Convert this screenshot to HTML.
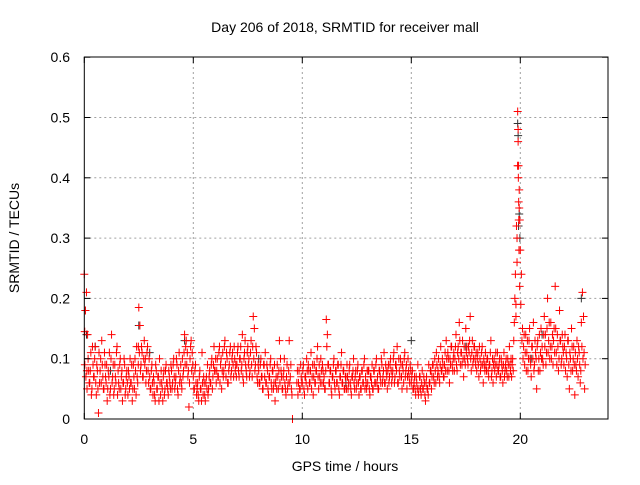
<!DOCTYPE html>
<html><head><meta charset="utf-8"><style>
body{margin:0;background:#fff}
svg text{font-family:"Liberation Sans",sans-serif;font-size:14px;fill:#000}
</style></head><body>
<svg id="chart" width="640" height="480" xmlns="http://www.w3.org/2000/svg">
<text x="345" y="32" text-anchor="middle">Day 206 of 2018, SRMTID for receiver mall</text>
<text transform="translate(19,238) rotate(-90)" text-anchor="middle">SRMTID / TECUs</text>
<text x="345" y="471" text-anchor="middle">GPS time / hours</text>
<g id="grid"></g><g id="black"></g><g id="red"></g><g id="axes"></g>
</svg>
<script>
const xTicks=[0,5,10,15,20];
const yTicks=[0,0.1,0.2,0.3,0.4,0.5,0.6];
const yTickLabels=["0","0.1","0.2","0.3","0.4","0.5","0.6"];
const redStep=0.05;
const redValues=[
0.24,0.18,0.21,0.14,0.08,0.06,0.11,0.05,0.09,0.07,0.12,0.04,0.08,0.01,0.06,0.10,0.13,0.07,0.05,0.09,
0.06,0.03,0.08,0.11,0.05,0.14,0.07,0.04,0.09,0.06,0.12,0.08,0.05,0.10,0.07,0.03,0.06,0.09,0.05,0.08,
0.04,0.07,0.10,0.06,0.03,0.09,0.05,0.08,0.12,0.06,0.185,0.155,0.09,0.11,0.07,0.13,0.10,0.08,0.12,0.06,
0.07,0.05,0.09,0.04,0.06,0.03,0.08,0.05,0.07,0.10,0.04,0.06,0.03,0.08,0.05,0.09,0.06,0.04,0.07,0.05,
0.08,0.06,0.10,0.05,0.07,0.09,0.04,0.11,0.07,0.06,0.10,0.08,0.14,0.12,0.09,0.07,0.02,0.10,0.13,0.11,
0.07,0.05,0.09,0.04,0.06,0.03,0.08,0.05,0.11,0.04,0.06,0.03,0.07,0.09,0.05,0.08,0.06,0.10,0.07,0.12,
0.08,0.06,0.10,0.07,0.12,0.09,0.05,0.11,0.08,0.13,0.07,0.10,0.06,0.09,0.12,0.08,0.11,0.07,0.10,0.09,
0.09,0.12,0.07,0.10,0.08,0.14,0.06,0.11,0.09,0.07,0.12,0.10,0.08,0.13,0.07,0.17,0.15,0.09,0.11,0.06,
0.08,0.06,0.10,0.07,0.05,0.09,0.11,0.06,0.08,0.04,0.07,0.10,0.05,0.08,0.06,0.03,0.07,0.09,0.05,0.13,
0.10,0.07,0.05,0.08,0.06,0.04,0.09,0.06,0.13,0.07,0.05,0.00,null,null,null,0.06,0.04,0.08,0.05,0.07,
0.06,0.09,0.04,0.07,0.10,0.05,0.08,0.06,0.11,0.07,0.04,0.09,0.06,0.08,0.12,0.05,0.07,0.10,0.06,0.08,
0.07,0.05,0.165,0.14,0.09,0.06,0.08,0.04,0.07,0.10,0.05,0.08,0.06,0.09,0.04,0.07,0.11,0.06,0.08,0.05,
0.07,0.09,0.05,0.08,0.06,0.04,0.07,0.10,0.05,0.08,0.06,0.09,0.04,0.07,0.05,0.08,0.06,0.10,0.07,0.05,
0.06,0.08,0.04,0.07,0.09,0.05,0.08,0.06,0.10,0.07,0.05,0.08,0.06,0.09,0.07,0.11,0.06,0.08,0.05,0.09,
0.07,0.10,0.06,0.08,0.11,0.07,0.09,0.12,0.06,0.08,0.10,0.07,0.09,0.06,0.11,0.08,0.05,0.10,0.07,0.09,
0.06,0.08,0.05,0.07,0.04,0.06,0.09,0.05,0.07,0.04,0.08,0.05,0.06,0.03,0.07,0.05,0.09,0.06,0.08,0.07,
0.09,0.06,0.08,0.11,0.07,0.10,0.06,0.12,0.08,0.09,0.07,0.11,0.13,0.08,0.10,0.06,0.09,0.12,0.08,0.11,
0.10,0.14,0.08,0.12,0.16,0.09,0.11,0.13,0.07,0.10,0.15,0.12,0.09,0.11,0.17,0.08,0.13,0.10,0.12,0.09,
0.08,0.11,0.07,0.10,0.09,0.12,0.06,0.09,0.11,0.08,0.10,0.07,0.09,0.13,0.08,0.06,0.10,0.09,0.07,0.11,
0.08,0.10,0.07,0.09,0.06,0.11,0.08,0.10,0.07,0.09,0.12,0.08,0.07,0.10,0.13,0.20,0.17,0.30,0.46,0.38,
0.28,0.24,0.15,0.12,0.09,0.14,0.11,0.08,0.13,0.10,0.07,0.12,0.16,0.09,0.11,0.05,0.13,0.10,0.08,0.15,
0.12,0.09,0.17,0.14,0.11,0.20,0.13,0.10,0.16,0.12,0.09,0.15,0.22,0.11,0.14,0.08,0.18,0.13,0.10,0.12,
0.09,0.14,0.11,0.07,0.13,0.05,0.10,0.15,0.08,0.12,0.04,0.09,0.13,0.07,0.11,0.06,0.16,0.21,0.17,0.05
];
const redValuesB=[
0.09,0.07,0.05,0.10,0.06,0.08,0.04,0.12,0.07,0.10,0.06,0.09,0.05,0.11,0.08,0.06,0.09,0.05,0.11,0.07,
0.09,0.05,0.07,0.04,0.10,0.06,0.09,0.05,0.07,0.11,0.04,0.06,0.09,0.05,0.08,0.06,0.10,0.04,0.07,0.06,
0.08,0.05,0.06,0.09,0.05,0.07,0.10,0.04,0.07,0.09,0.11,0.08,0.12,0.07,0.10,0.09,0.06,0.11,0.08,0.10,
0.05,0.08,0.06,0.07,0.04,0.09,0.05,0.07,0.03,0.06,0.08,0.05,0.07,0.04,0.08,0.06,0.05,0.08,0.06,0.09,
0.05,0.09,0.07,0.06,0.10,0.05,0.08,0.06,0.09,0.05,0.07,0.11,0.09,0.13,0.11,0.08,0.06,0.12,0.08,0.09,
0.05,0.08,0.06,0.05,0.04,0.07,0.05,0.03,0.06,0.07,0.04,0.06,0.05,0.04,0.07,0.06,0.09,0.05,0.09,0.08,
0.10,0.08,0.07,0.11,0.06,0.10,0.08,0.07,0.12,0.09,0.11,0.06,0.08,0.11,0.07,0.10,0.09,0.12,0.08,0.07,
0.11,0.08,0.10,0.12,0.09,0.07,0.10,0.13,0.08,0.11,0.09,0.07,0.11,0.09,0.12,0.10,0.08,0.12,0.07,0.09,
0.06,0.09,0.07,0.05,0.09,0.07,0.06,0.09,0.05,0.07,0.09,0.06,0.08,0.05,0.09,0.06,0.05,0.07,0.08,0.06,
0.08,0.05,0.07,0.10,0.05,0.07,0.05,0.08,0.06,0.09,0.04,null,null,null,null,0.08,0.06,0.05,0.09,0.06,
0.08,0.05,0.07,0.06,0.08,0.09,0.06,0.08,0.05,0.09,0.07,0.06,0.08,0.10,0.07,0.09,0.06,0.08,0.09,0.06,
0.05,0.08,0.12,0.09,0.06,0.08,0.05,0.07,0.09,0.06,0.08,0.06,0.09,0.05,0.07,0.09,0.06,0.08,0.05,0.07,
0.05,0.07,0.06,0.09,0.05,0.07,0.08,0.06,0.07,0.05,0.08,0.06,0.07,0.05,0.08,0.06,0.09,0.05,0.06,0.08,
0.08,0.05,0.07,0.06,0.05,0.08,0.06,0.09,0.06,0.05,0.08,0.07,0.10,0.06,0.08,0.06,0.09,0.07,0.08,0.06,
0.09,0.08,0.07,0.10,0.06,0.09,0.08,0.06,0.10,0.07,0.09,0.05,0.08,0.10,0.07,0.09,0.07,0.08,0.06,0.08,
0.07,0.05,0.06,0.05,0.07,0.05,0.04,0.07,0.05,0.06,0.05,0.07,0.04,0.06,0.05,0.04,0.06,0.08,0.05,0.09,
0.07,0.10,0.06,0.09,0.08,0.07,0.09,0.08,0.10,0.07,0.09,0.08,0.10,0.11,0.08,0.10,0.12,0.09,0.10,0.08,
0.12,0.09,0.11,0.10,0.13,0.11,0.09,0.10,0.12,0.09,0.11,0.10,0.12,0.13,0.10,0.11,0.09,0.12,0.10,0.11,
0.10,0.09,0.12,0.08,0.11,0.09,0.10,0.08,0.09,0.10,0.08,0.09,0.11,0.07,0.10,0.09,0.08,0.11,0.09,0.08,
0.09,0.07,0.10,0.08,0.09,0.07,0.09,0.08,0.10,0.07,0.09,0.10,0.09,0.08,0.16,0.24,0.32,0.42,0.36,0.33,
0.19,0.13,0.10,0.14,0.11,0.08,0.13,0.10,0.15,0.09,0.12,0.10,0.08,0.13,0.10,0.12,0.08,0.14,0.11,0.10,
0.10,0.14,0.12,0.09,0.15,0.11,0.16,0.12,0.10,0.14,0.13,0.11,0.15,0.09,0.12,0.10,0.13,0.09,0.14,0.11,
0.12,0.08,0.10,0.13,0.09,0.11,0.08,0.12,0.10,0.09,0.11,0.08,0.10,0.12,0.09,0.08,0.12,0.10,0.11,0.09
];
const redExtraTimes=[19.88,19.9,19.92,19.95,19.85,19.93,19.97,19.8,19.91,19.94,0.02,0.12,2.48];
const redExtraValues=[0.51,0.48,0.42,0.35,0.26,0.33,0.22,0.19,0.40,0.28,0.145,0.08,0.12];
const blackTimes=[0.05,0.1,0.5,2.5,19.88,19.9,19.95,19.92,19.98,15,22.8,3,8,12,4.6,17.5,21,20.5,1.2,6.5];
const blackValues=[0.18,0.14,0.12,0.155,0.49,0.47,0.34,0.32,0.30,0.13,0.2,0.11,0.1,0.06,0.13,0.12,0.14,0.1,0.08,0.07];

const X0=84.3,XS=21.8,Y0=419,YS=603,L=84.3,R=608,T=57,B=419;
const sx=t=>X0+t*XS, sy=v=>Y0-v*YS;
const NS="http://www.w3.org/2000/svg";
function mk(tag,attrs,parent){const e=document.createElementNS(NS,tag);for(const k in attrs)e.setAttribute(k,attrs[k]);parent.appendChild(e);return e;}
const grid=document.getElementById('grid'),axes=document.getElementById('axes');
xTicks.forEach(t=>{
 const x=sx(t);
 if(t>0){const g=mk('line',{x1:x,x2:x,y1:T,y2:B,stroke:'#a0a0a0','stroke-dasharray':'2,3'},grid);
 
 }
 mk('line',{x1:x,x2:x,y1:B,y2:B-6,stroke:'#000'},axes);
 mk('line',{x1:x,x2:x,y1:T,y2:T+6,stroke:'#000'},axes);
 const tx=mk('text',{x:x,y:444,'text-anchor':'middle'},axes);tx.textContent=t;
 
 
});
yTicks.forEach((v,i)=>{
 const y=sy(v);
 if(v>0&&v<0.6){const g=mk('line',{x1:L,x2:R,y1:y,y2:y,stroke:'#a0a0a0','stroke-dasharray':'2,3'},grid);
 
 }
 mk('line',{x1:L,x2:L+6,y1:y,y2:y,stroke:'#000'},axes);
 mk('line',{x1:R,x2:R-6,y1:y,y2:y,stroke:'#000'},axes);
 const tx=mk('text',{x:70,y:y+5,'text-anchor':'end'},axes);tx.textContent=yTickLabels[i];
 
 
});
const frame=mk('rect',{x:L,y:T,width:R-L,height:B-T,fill:'none',stroke:'#000'},axes);


function plus(t,v,color,parent,name){
 const x=sx(t),y=sy(v);
 const p=mk('path',{d:`M${x-4} ${y}H${x+4}M${x} ${y-4}V${y+4}`,stroke:color,'stroke-width':1,fill:'none'},parent);
 
 
}
const bg=document.getElementById('black'),rg=document.getElementById('red');
blackTimes.forEach((t,i)=>plus(t,blackValues[i],'#333',bg,'black-point'));
redValues.forEach((v,i)=>{if(v!==null)plus(i*redStep,v,'#ff0000',rg,'red-point');});
redValuesB.forEach((v,i)=>{if(v!==null)plus(i*redStep+0.025,v,'#ff0000',rg,'red-point');});
redExtraTimes.forEach((t,i)=>plus(t,redExtraValues[i],'#ff0000',rg,'red-point'));
</script>
</body></html>
